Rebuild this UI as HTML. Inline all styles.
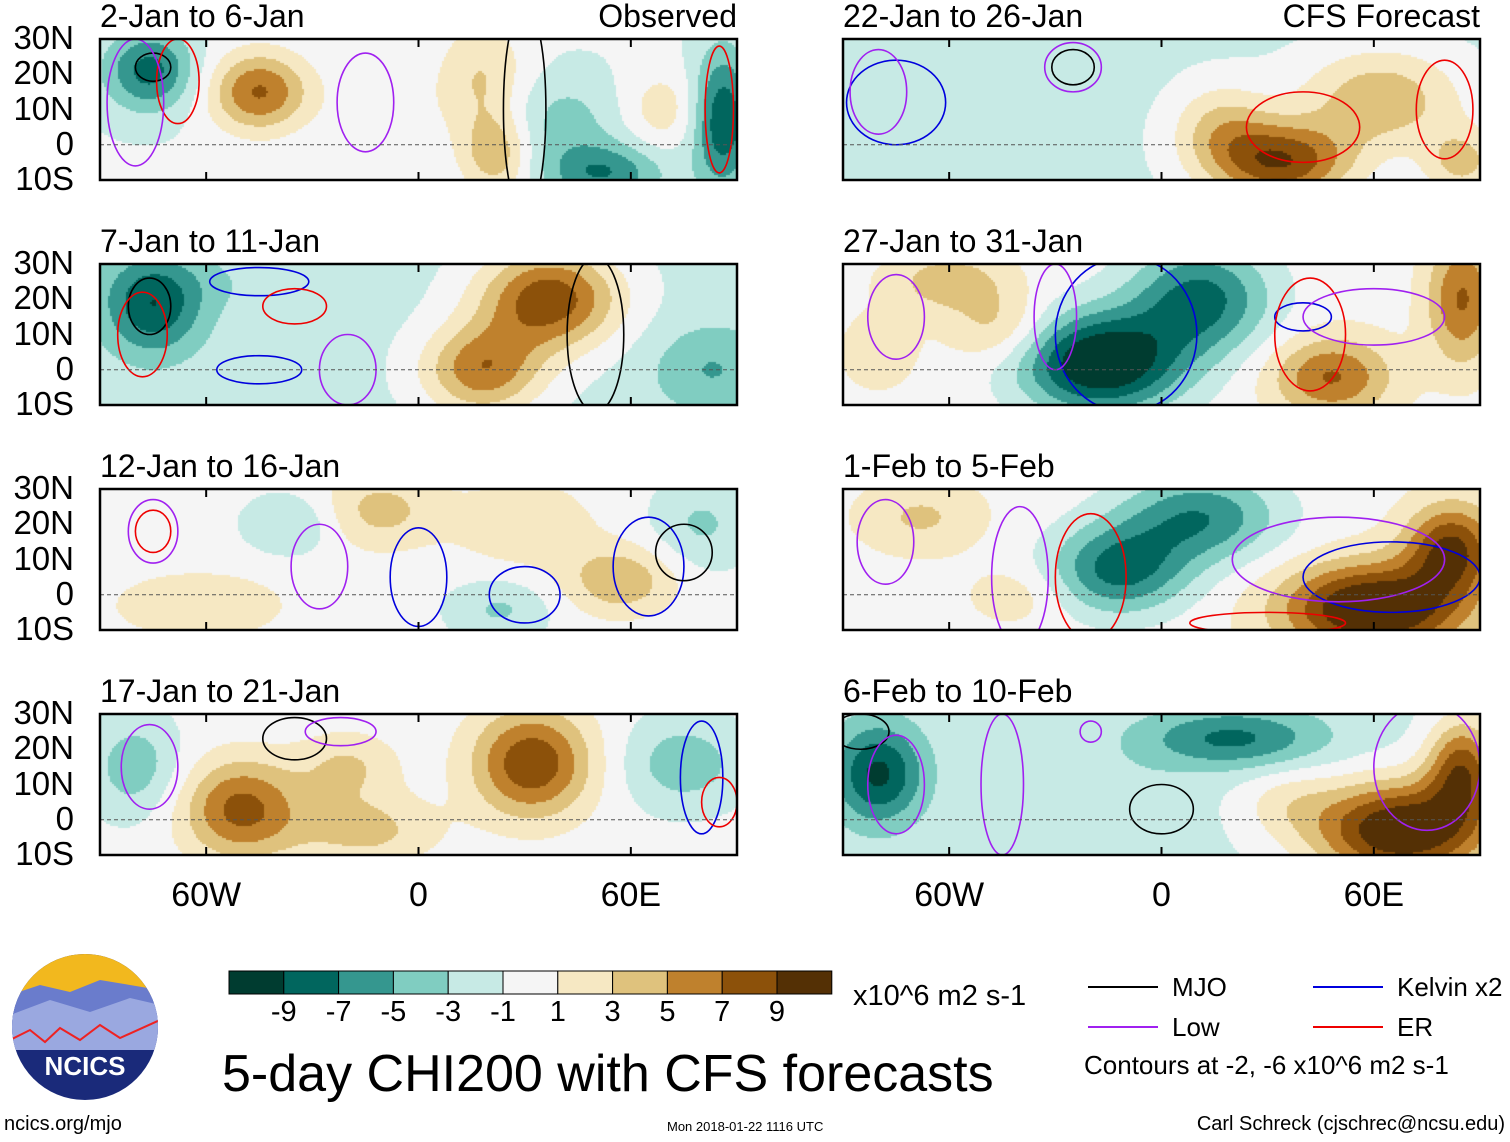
<!DOCTYPE html>
<html><head><meta charset="utf-8">
<style>
body{margin:0;background:#fff;width:1510px;height:1142px;overflow:hidden;position:relative;font-family:"Liberation Sans",sans-serif;}
.t{position:absolute;white-space:nowrap;color:#000;z-index:3;}
canvas{position:absolute;z-index:1;}
#ov{z-index:2;}
</style></head><body>
<div id="root"></div>
<svg id="ov" width="1510" height="1142" style="position:absolute;left:0;top:0"></svg>
<script>
// ---- data ----
const panelTitles=["2-Jan to 6-Jan","7-Jan to 11-Jan","12-Jan to 16-Jan","17-Jan to 21-Jan","22-Jan to 26-Jan","27-Jan to 31-Jan","1-Feb to 5-Feb","6-Feb to 10-Feb"];
const panelBase=[-0.8,-1.6,-0.3,-0.3,-1.5,0.2,0.3,-1.5];
// blobs: [lon, lat, value, sigmaLon, sigmaLat]
const panelBlobs=[
 [[-76,21,-7,9,8],[-45,15,8,10,8],[18,18,4,9,12],[22,-3,5,7,8],[40,7,-3,12,9],[52,-8,-6,12,6],[86,7,-8,6,14],[69,10,3,8,8],[-10,10,1.5,10,10]],
 [[-75,18,-7,10,10],[37,20,10,14,10],[18,0,8,12,9],[83,0,-3.5,12,9],[-60,25,-1,20,6]],
 [[-11,24,4,12,8],[57,4,5,11,7],[-36,20,-3,9,6],[-62,-3,3,18,7],[23,-4,-3,10,6],[30,20,3,14,9],[80,20,-3,10,9]],
 [[-80,15,-4,9,10],[-50,3,8,12,10],[32,16,9,12,11],[-15,-3,4,14,7],[75,16,-4,12,9],[-20,15,3.5,10,7]],
 [[34,-5,10,14,8],[62,13,6,16,10],[17,5,4.5,10,9],[85,-5,5,8,7],[-20,20,-0.5,10,6]],
 [[-17,2,-12,16,10],[11,20,-8,14,11],[48,-2,7,12,8],[85,20,7,7,13],[-60,25,4,12,6],[-46,12,3.5,10,7],[-80,5,2,8,8]],
 [[-12,7,-8,14,9],[11,22,-7,16,9],[60,-4,12,18,9],[82,13,9,9,9],[-68,22,3,12,7],[-40,0,2,10,6]],
 [[-80,13,-8,9,10],[20,23,-6,18,6],[68,-3,13,18,10],[85,15,9,7,10],[-10,5,-1,12,10],[35,5,2.5,10,7]]
];
// contours: [type, lon, lat, rLon, rLat]
const panelContours=[
 [["mjo",-75,22,5,4],["red",-68,18,6,12],["purple",-80,12,8,18],["purple",-15,12,8,14],["black",30,10,6,30],["red",85,10,4,18]],
 [["mjo",-76,18,6,8],["red",-78,10,7,12],["blue",-45,25,14,4],["red",-35,18,9,5],["blue",-45,0,12,4],["purple",-20,0,8,10],["black",50,10,8,22]],
 [["purple",-75,18,7,9],["red",-75,18,5,6],["purple",-28,8,8,12],["blue",0,5,8,14],["blue",30,0,10,8],["blue",65,8,10,14],["mjo",75,12,8,8]],
 [["purple",-76,15,8,12],["mjo",-35,23,9,6],["purple",-22,25,10,4],["blue",80,12,6,16],["red",85,5,5,7]],
 [["blue",-75,12,14,12],["purple",-80,15,8,12],["mjo",-25,22,6,5],["purple",-25,22,8,7],["red",40,5,16,10],["red",80,10,8,14]],
 [["purple",-75,15,8,12],["blue",-10,10,20,22],["purple",-30,15,6,15],["blue",40,15,8,4],["red",42,10,10,16],["purple",60,15,20,8]],
 [["purple",-78,15,8,12],["red",-20,5,10,18],["purple",-40,5,8,20],["blue",65,5,25,10],["purple",50,10,30,12],["red",30,-8,22,3]],
 [["mjo",-85,25,8,5],["purple",-75,10,8,14],["purple",-45,10,6,20],["mjo",0,3,9,7],["purple",-20,25,3,3],["purple",75,15,15,18]]
];
const cbColors=["#003c30","#01665e","#35978f","#80cdc1","#c7eae5","#f5f5f5","#f6e8c3","#dfc27d","#bf812d","#8c510a","#543005"];
const cbLabels=["-9","-7","-5","-3","-1","1","3","5","7","9"];
const latTicks=[30,20,10,0,-10];
const latLabels=["30N","20N","10N","0","10S"];
const lonTicks=[-60,0,60];
const lonLabels=["60W","0","60E"];

// ---- layout ----
const colX=[100,843], rowY=[39,264,489,714], PW=637, PH=141;
const NS="http://www.w3.org/2000/svg";
const ov=document.getElementById('ov');
function xs(px,lon){return px+(lon+90)/180*PW;}
function ys(py,lat){return py+(30-lat)/40*PH;}
function txt(x,y,s,size,name,anchor){
 const d=document.createElement('div');d.className='t';
 d.style.left=x+'px';d.style.top=y+'px';d.style.fontSize=size+'px';
 if(anchor==='end'){d.style.transform='translateX(-100%)';}
 if(anchor==='middle'){d.style.transform='translateX(-50%)';}
 d.textContent=s;
 
 
 document.body.appendChild(d);return d;
}
function svgEl(tag,attrs){const e=document.createElementNS(NS,tag);for(const k in attrs)e.setAttribute(k,attrs[k]);ov.appendChild(e);return e;}
function level(v){const th=[-9,-7,-5,-3,-1,1,3,5,7,9];let i=0;while(i<th.length&&v>=th[i])i++;return i;}
const cmap={mjo:"#000",black:"#000",red:"#e00",blue:"#00d",purple:"#a020f0"};

panelTitles.forEach((title,p)=>{
 const col=p<4?0:1,row=p%4,px=colX[col],py=rowY[row];
 const cv=document.createElement('canvas');cv.width=PW;cv.height=PH;
 cv.style.left=px+'px';cv.style.top=py+'px';
 
 
 document.body.appendChild(cv);
 const ctx=cv.getContext('2d');const step=2;
 for(let x=0;x<PW;x+=step)for(let y=0;y<PH;y+=step){
  const lon=-90+(x+1)/PW*180,lat=30-(y+1)/PH*40;
  let v=panelBase[p];
  panelBlobs[p].forEach(b=>{const dx=(lon-b[0])/b[3],dy=(lat-b[1])/b[4];v+=b[2]*Math.exp(-0.5*(dx*dx+dy*dy));});
  ctx.fillStyle=cbColors[level(v)];ctx.fillRect(x,y,step,step);
 }
 const cp=svgEl('clipPath',{id:'clip'+p});const r=document.createElementNS(NS,'rect');
 r.setAttribute('x',px);r.setAttribute('y',py);r.setAttribute('width',PW);r.setAttribute('height',PH);cp.appendChild(r);
 panelContours[p].forEach(c=>{
  const e=svgEl('ellipse',{cx:xs(px,c[1]),cy:ys(py,c[2]),rx:c[3]/180*PW,ry:c[4]/40*PH,fill:'none',stroke:cmap[c[0]],'stroke-width':1.6,'clip-path':'url(#clip'+p+')'});
  
  
 });
 const eq=svgEl('line',{x1:px,x2:px+PW,y1:ys(py,0),y2:ys(py,0),stroke:'#555','stroke-dasharray':'4,3','stroke-width':1});
 
 
 const fr=svgEl('rect',{x:px,y:py,width:PW,height:PH,fill:'none',stroke:'#000','stroke-width':2.5});
 
 
 lonTicks.forEach(l=>{svgEl('line',{x1:xs(px,l),x2:xs(px,l),y1:py+PH,y2:py+PH-8,stroke:'#000','stroke-width':2});svgEl('line',{x1:xs(px,l),x2:xs(px,l),y1:py,y2:py+8,stroke:'#000','stroke-width':2});});
 txt(px,py-41,title,32,'panel-title-'+(p+1));
 if(col===0){latTicks.forEach((l,i)=>txt(74,ys(py,l)-20,latLabels[i],33,'lat-label','end'));}
 if(row===3){lonTicks.forEach((l,i)=>txt(xs(px,l),876,lonLabels[i],34,'lon-label','middle'));}
});
txt(737,-2,"Observed",32,'observed-label','end');
txt(1480,-2,"CFS Forecast",32,'forecast-label','end');

// colorbar
cbColors.forEach((c,i)=>{const r=svgEl('rect',{x:229+i*54.8,y:971,width:54.8,height:23,fill:c,stroke:'#000','stroke-width':1});
 
 });
cbLabels.forEach((s,i)=>txt(229+(i+1)*54.8,996,s,29,'colorbar-label','middle'));
txt(853,980,"x10^6 m2 s-1",29,'colorbar-units');
txt(222,1044,"5-day CHI200 with CFS forecasts",52,'main-title');
// legend
[["#000",1088,987,"MJO"],["#00d",1313,987,"Kelvin x2"],["#a020f0",1088,1027,"Low"],["#e00",1313,1027,"ER"]].forEach(l=>{
 const ln=svgEl('line',{x1:l[1],x2:l[1]+70,y1:l[2],y2:l[2],stroke:l[0],'stroke-width':2});
 
 
 txt(l[1]+84,l[2]-15,l[3],26,'legend-entry');
});
txt(1084,1050,"Contours at -2, -6 x10^6 m2 s-1",26,'contour-note');
txt(4,1113,"ncics.org/mjo",20,'site-url');
txt(667,1119,"Mon 2018-01-22 1116 UTC",13,'timestamp');
txt(1505,1113,"Carl Schreck (cjschrec@ncsu.edu)",20,'author','end');
// logo
const g=svgEl('g',{});
g.innerHTML='<defs><clipPath id="lc"><circle cx="85" cy="1027" r="73"/></clipPath></defs>'+
'<g clip-path="url(#lc)"><rect x="10" y="950" width="150" height="160" fill="#1a2a7a"/>'+
'<rect x="10" y="950" width="150" height="45" fill="#f2b81e"/>'+
'<path d="M10 995 L40 985 L70 992 L100 980 L160 990 L160 1040 L10 1040Z" fill="#6a7ccc"/>'+
'<path d="M10 1015 L50 1000 L90 1012 L130 998 L160 1005 L160 1050 L10 1050Z" fill="#9aa8e0"/>'+
'<path d="M10 1040 L30 1030 L45 1042 L60 1028 L80 1040 L100 1025 L120 1038 L160 1020" stroke="#e22" stroke-width="2" fill="none"/></g>'+
'<text x="85" y="1075" fill="#fff" font-size="26" font-weight="bold" text-anchor="middle" font-family="Liberation Sans">NCICS</text>';
</script>
</body></html>
